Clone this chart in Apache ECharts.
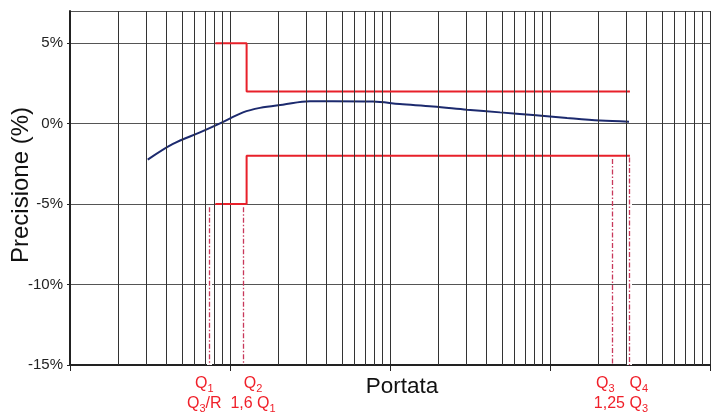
<!DOCTYPE html>
<html><head><meta charset="utf-8">
<script src="https://cdn.jsdelivr.net/npm/echarts@6/dist/echarts.min.js"></script>
<style>html,body{margin:0;padding:0;background:#fff}#c{width:711px;height:414px}</style>
</head><body><div id="c"></div>
<script>
// Accuracy curve (flow value on log axis, error in %)
const curveX = [3.06, 4.40, 6.49, 8.66, 12.06, 15.4, 21.4, 31.6, 44.0, 78.3, 115, 186, 303, 487, 783, 1278, 2053, 3118];
const curveY = [-2.24, -1.26, -0.54, 0.02, 0.70, 0.98, 1.18, 1.39, 1.39, 1.37, 1.22, 1.07, 0.87, 0.70, 0.54, 0.35, 0.19, 0.12];
// Maximum permissible error limits
const limitX = [8.1, 12.7, 12.7, 3160];
const upperLimit = [5, 5, 2, 2];
const lowerLimit = [-5, -5, -2, -2];
// Minor log grid lines
const minorGridX = [2, 3, 4, 5, 6, 7, 8, 9, 20, 30, 40, 50, 60, 70, 80, 90, 200, 300, 400, 500, 600, 700, 800, 900, 2000, 3000, 4000, 5000, 6000, 7000, 8000, 9000];
// Characteristic flows Q1, Q2, Q3, Q4
const flowX = [7.42, 12.06, 2441, 3118];
const flowTop = [-5.2, -5.2, -2.2, -2.1];
const haloFlows = [0, 3];
// Axis
const yMin = -15, yMax = 7, yStep = 5;
const xMin = 1, xMax = 10000;

const FONT = 'Liberation Sans, Arial, sans-serif';
const RED = '#f0202a';
const chart = echarts.init(document.getElementById('c'), null, {renderer: 'canvas'});

const option = {
  animation: false,
  backgroundColor: '#fff',
  grid: {left: 70, right: 1, top: 11, bottom: 49, containLabel: false, outerBoundsMode: 'none'},
  xAxis: {
    type: 'log', logBase: 10, min: xMin, max: xMax,
    name: 'Portata', nameLocation: 'middle', nameGap: 10, nameMoveOverlap: false,
    nameTextStyle: {fontFamily: FONT, fontSize: 22.5, color: '#111', padding: [0, 0, 0, 24]},
    axisLine: {onZero: false, lineStyle: {color: '#222', width: 2}},
    axisTick: {show: true, length: 6, lineStyle: {color: '#222', width: 1}},
    axisLabel: {show: false},
    splitLine: {show: true, lineStyle: {color: '#333', width: 1}}
  },
  yAxis: {
    type: 'value', min: yMin, max: yMax, interval: yStep,
    name: 'Precisione (%)', nameLocation: 'middle', nameGap: 37, nameMoveOverlap: false,
    nameTextStyle: {fontFamily: FONT, fontSize: 24, color: '#111', padding: [0, 0, 0, 6]},
    axisLine: {onZero: false, lineStyle: {color: '#222', width: 2}},
    axisTick: {show: true, length: 3, lineStyle: {color: '#222'}},
    axisLabel: {showMaxLabel: false, margin: 7, fontFamily: FONT, fontSize: 15, color: '#222', formatter: '{value}%'},
    splitLine: {show: true, lineStyle: {color: '#555', width: 1}}
  },
  series: [
    {
      type: 'line', data: [], silent: true,
      markLine: {
        silent: true, symbol: ['none', 'none'], label: {show: false},
        lineStyle: {color: '#333', width: 1, type: 'solid'},
        emphasis: {disabled: true},
        data: minorGridX.map(v => ({xAxis: v}))
      }
    },
    {
      type: 'line', data: [], silent: true,
      markLine: {
        silent: true, symbol: ['none', 'none'], label: {show: false},
        lineStyle: {color: '#fff', width: 5, type: 'solid'},
        emphasis: {disabled: true},
        data: haloFlows.map(i => [{coord: [flowX[i], flowTop[i]]}, {coord: [flowX[i], yMin]}])
      }
    },
    {
      type: 'line', data: [], silent: true,
      markLine: {
        silent: true, symbol: ['none', 'none'], label: {show: false},
        lineStyle: {color: '#c8385a', width: 1.3, type: [5, 2, 1.5, 2]},
        emphasis: {disabled: true},
        data: flowX.map((x, i) => [{coord: [x, flowTop[i]]}, {coord: [x, yMin]}])
      }
    },
    {
      type: 'line', symbol: 'none', silent: true,
      lineStyle: {color: '#e8202a', width: 2},
      data: limitX.map((x, i) => [x, upperLimit[i]])
    },
    {
      type: 'line', symbol: 'none', silent: true,
      lineStyle: {color: '#e8202a', width: 2},
      data: limitX.map((x, i) => [x, lowerLimit[i]])
    },
    {
      type: 'line', symbol: 'none', silent: true, smooth: 0.35,
      lineStyle: {color: '#1c2a6e', width: 2},
      data: curveX.map((x, i) => [x, curveY[i]])
    }
  ]
};
chart.setOption(option);

const rich = {
  q: {fontSize: 16, lineHeight: 20, fill: RED, fontFamily: FONT},
  s: {fontSize: 11, lineHeight: 11, verticalAlign: 'bottom', fill: RED, fontFamily: FONT}
};
const px = v => chart.convertToPixel({xAxisIndex: 0}, v);
const labelTop = chart.convertToPixel({yAxisIndex: 0}, yMin) + 9;
const labels = [
  {x: px(flowX[0]) - 5, align: 'center', text: '{q|Q}{s|1}\n{q|Q}{s|3}{q|/R}'},
  {x: px(flowX[1]) + 10, align: 'center', text: '{q|Q}{s|2}\n{q|1,6 Q}{s|1}'},
  {x: px(flowX[2]) - 16, align: 'left', text: '{q|Q}{s|3}'},
  {x: px(flowX[3]) + 19, align: 'right', text: '{q|Q}{s|4}\n{q|1,25 Q}{s|3}'}
];
chart.setOption({
  graphic: labels.map(l => ({
    type: 'text', x: l.x, y: labelTop, silent: true,
    style: {text: l.text, rich: rich, align: l.align, verticalAlign: 'top', fill: RED, font: '16px ' + FONT}
  }))
});
</script>
</body></html>
